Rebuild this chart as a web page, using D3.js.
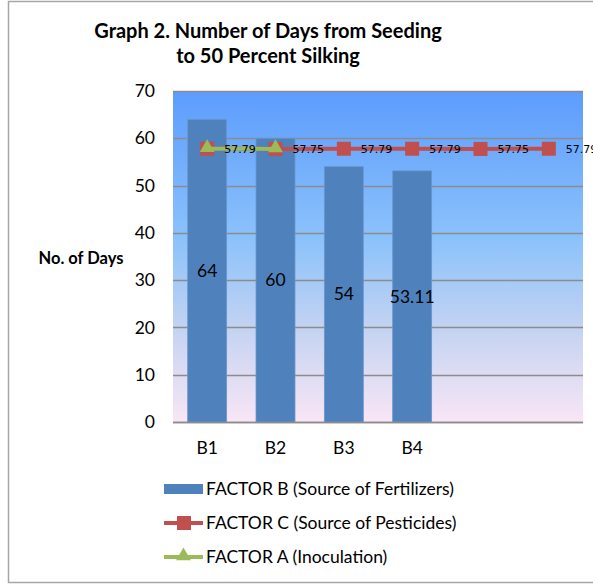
<!DOCTYPE html>
<html>
<head>
<meta charset="utf-8">
<script src="https://cdn.jsdelivr.net/npm/d3@7"></script>
<style>
  body { margin: 0; background: #fff; }
  svg { display: block; }
</style>
</head>
<body>
<script>
// chart values
var categories = ["B1", "B2", "B3", "B4", "B5", "B6"];
var tickLabels = ["B1", "B2", "B3", "B4", "", ""];
var factorB = [64, 60, 54, 53.11];
var factorC = [57.79, 57.75, 57.79, 57.79, 57.75, 57.79];
var factorA = [57.79, 57.75];
var yTicks = [0, 10, 20, 30, 40, 50, 60, 70];
var legendNames = ["FACTOR B (Source of Fertilizers)", "FACTOR C (Source of Pesticides)", "FACTOR A (Inoculation)"];

var width = 593,
    height = 584;
var margin = {top: 91, right: 10, bottom: 162, left: 173};
var plotW = 583 - margin.left,
    plotH = 422 - margin.top;

var blue = "#4f81bd", red = "#c0504d", green = "#9bbb59";
var font = "Lato, 'Open Sans', sans-serif";

var svg = d3.select("body")
  .append("svg")
    .attr("width", width)
    .attr("height", height);

// outer chart frame
svg.append("rect")
    .attr("x", 8.5)
    .attr("y", 1.5)
    .attr("width", 620)
    .attr("height", 581)
    .attr("fill", "#fff")
    .attr("stroke", "#a6a6a6")
    .attr("stroke-width", 1.5);

var grad = svg.append("defs").append("linearGradient")
    .attr("id", "bg")
    .attr("x1", 0).attr("y1", 0).attr("x2", 0).attr("y2", 1);
[[0, "#5c9cfd"], [0.45, "#8cc2fb"], [0.72, "#c4d3f2"], [1, "#f9e6f5"]].forEach(function(s) {
  grad.append("stop").attr("offset", s[0]).attr("stop-color", s[1]);
});

var x = d3.scaleBand()
    .domain(categories)
    .range([0, plotW])
    .paddingInner(0.43)
    .paddingOuter(0.215);

var xc = function(i) { return x(categories[i]) + x.bandwidth() / 2; };

var y = d3.scaleLinear()
    .domain([0, 70])
    .range([plotH, 0]);

var g = svg.append("g")
    .attr("transform", "translate(" + margin.left + "," + margin.top + ")");

g.append("rect")
    .attr("width", plotW)
    .attr("height", plotH)
    .attr("fill", "url(#bg)");

// gridlines
g.selectAll("line.grid")
  .data(yTicks)
  .enter().append("line")
    .attr("class", "grid")
    .attr("x1", 0)
    .attr("x2", plotW)
    .attr("y1", function(d) { return Math.round(y(d)) + 0.5; })
    .attr("y2", function(d) { return Math.round(y(d)) + 0.5; })
    .attr("stroke", "#8c8c8c")
    .attr("stroke-width", 1.5);

// y axis labels
var yAxis = g.append("g")
    .call(d3.axisLeft(y).tickValues(yTicks).tickSize(0).tickPadding(18));
yAxis.select(".domain").remove();
yAxis.selectAll("text")
    .attr("font-family", font)
    .attr("font-size", 17.5)
    .attr("fill", "#000");

// x axis labels
var xAxis = g.append("g")
    .attr("transform", "translate(0," + plotH + ")")
    .call(d3.axisBottom(x).tickSize(0).tickPadding(20)
      .tickFormat(function(d, i) { return tickLabels[i]; }));
xAxis.select(".domain").remove();
xAxis.selectAll("text")
    .attr("font-family", font)
    .attr("font-size", 17.5)
    .attr("fill", "#000");

// bars
g.selectAll("rect.bar")
  .data(factorB)
  .enter().append("rect")
    .attr("class", "bar")
    .attr("x", function(d, i) { return x(categories[i]); })
    .attr("y", function(d) { return y(d); })
    .attr("width", x.bandwidth())
    .attr("height", function(d) { return y(0) - y(d); })
    .attr("fill", blue)
    .attr("stroke", "#6a96cc")
    .attr("stroke-width", 0.8);

g.selectAll("text.barlabel")
  .data(factorB)
  .enter().append("text")
    .attr("class", "barlabel")
    .attr("x", function(d, i) { return xc(i); })
    .attr("y", function(d) { return y(d / 2); })
    .attr("dy", "0.35em")
    .attr("text-anchor", "middle")
    .attr("font-family", font)
    .attr("font-size", 17.5)
    .text(function(d) { return d; });

// bottom axis line
g.append("line")
    .attr("x1", 0)
    .attr("x2", plotW)
    .attr("y1", plotH + 0.5)
    .attr("y2", plotH + 0.5)
    .attr("stroke", "#8c8c8c")
    .attr("stroke-width", 1.5);

var line = d3.line()
    .x(function(d, i) { return xc(i); })
    .y(function(d) { return y(d); });

// factor C
g.append("path")
    .datum(factorC)
    .attr("d", line)
    .attr("fill", "none")
    .attr("stroke", red)
    .attr("stroke-width", 4);

g.selectAll("rect.sq")
  .data(factorC)
  .enter().append("rect")
    .attr("class", "sq")
    .attr("x", function(d, i) { return xc(i) - 7; })
    .attr("y", function(d) { return y(d) - 7; })
    .attr("width", 14)
    .attr("height", 14)
    .attr("fill", red);

// factor A
g.append("path")
    .datum(factorA)
    .attr("d", line)
    .attr("fill", "none")
    .attr("stroke", green)
    .attr("stroke-width", 4);

var tri = d3.symbol().type(d3.symbolTriangle).size(95);
g.selectAll("path.tri")
  .data(factorA)
  .enter().append("path")
    .attr("class", "tri")
    .attr("transform", function(d, i) { return "translate(" + xc(i) + "," + (y(d) - 1) + ")"; })
    .attr("d", tri)
    .attr("fill", green);

// data labels on top of the lines
g.selectAll("text.clabel")
  .data(factorC)
  .enter().append("text")
    .attr("class", "clabel")
    .attr("x", function(d, i) { return xc(i) + 17; })
    .attr("y", function(d) { return y(d); })
    .attr("dy", "0.4em")
    .attr("font-family", "'DejaVu Sans', sans-serif")
    .attr("font-size", 11)
    .text(function(d) { return d; });

// titles
svg.append("text")
    .attr("x", 268)
    .attr("font-family", font)
    .attr("font-weight", "bold")
    .attr("font-size", 20)
    .attr("text-anchor", "middle")
    .selectAll("tspan")
  .data(["Graph 2. Number of Days from Seeding", "to 50 Percent Silking"])
  .enter().append("tspan")
    .attr("x", 268)
    .attr("y", function(d, i) { return 38 + i * 25; })
    .text(function(d) { return d; });

svg.append("text")
    .attr("x", 81)
    .attr("y", 264)
    .attr("text-anchor", "middle")
    .attr("font-family", font)
    .attr("font-weight", "bold")
    .attr("font-size", 16.5)
    .text("No. of Days");

// legend
var legend = svg.append("g")
    .attr("transform", "translate(164,0)");
var rowY = [489, 523, 557];

legend.append("rect")
    .attr("x", 0).attr("y", rowY[0] - 5)
    .attr("width", 39).attr("height", 10)
    .attr("fill", blue);

legend.append("line")
    .attr("x1", 0).attr("x2", 39)
    .attr("y1", rowY[1]).attr("y2", rowY[1])
    .attr("stroke", red).attr("stroke-width", 4);
legend.append("rect")
    .attr("x", 13).attr("y", rowY[1] - 7)
    .attr("width", 14).attr("height", 14)
    .attr("fill", red);

legend.append("line")
    .attr("x1", 0).attr("x2", 39)
    .attr("y1", rowY[2]).attr("y2", rowY[2])
    .attr("stroke", green).attr("stroke-width", 4);
legend.append("path")
    .attr("transform", "translate(19.5," + (rowY[2] - 1) + ")")
    .attr("d", tri)
    .attr("fill", green);

legend.selectAll("text")
  .data(legendNames)
  .enter().append("text")
    .attr("x", 42)
    .attr("y", function(d, i) { return rowY[i]; })
    .attr("dy", "0.35em")
    .attr("font-family", font)
    .attr("font-size", 17.5)
    .text(function(d) { return d; });
</script>
</body>
</html>
